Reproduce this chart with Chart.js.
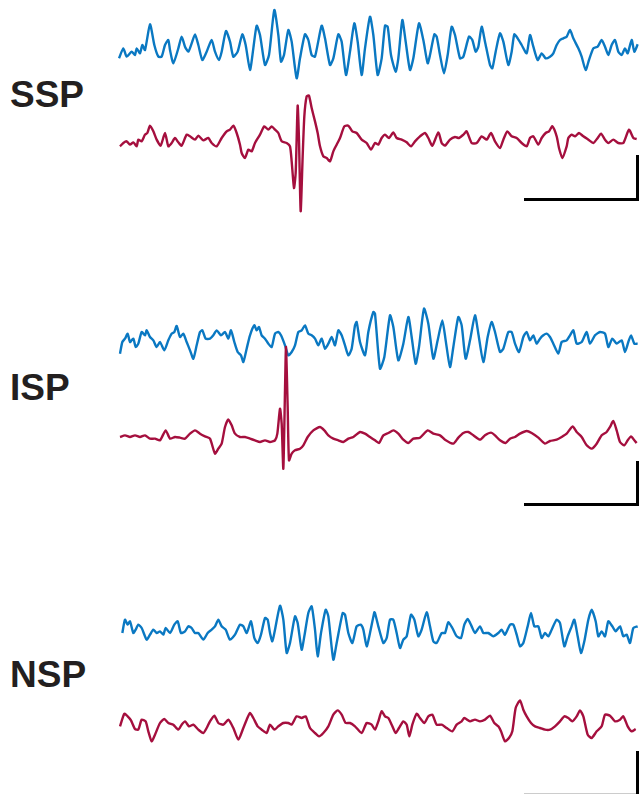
<!DOCTYPE html>
<html>
<head>
<meta charset="utf-8">
<script src="https://cdn.jsdelivr.net/npm/chart.js@4.4.1/dist/chart.umd.min.js"></script>
<style>
  html, body { margin: 0; padding: 0; background: #fff; }
  #page { position: relative; width: 639px; height: 794px; overflow: hidden; }
  #page canvas { position: absolute; }
  .label {
    position: absolute; left: 10px;
    font-family: "Liberation Sans", Arial, sans-serif; font-weight: bold;
    font-size: 37px; line-height: 37px; color: #231f20;
  }
  .bar { position: absolute; background: #000; }
</style>
</head>
<body>
<div id="page">
  <div class="label" style="top:76px">SSP</div>
  <div class="label" style="top:369px">ISP</div>
  <div class="label" style="top:656px">NSP</div>
  <!-- scale bars -->
  <div class="bar" style="left:524px; top:198px; width:115px; height:3px"></div>
  <div class="bar" style="left:636px; top:155px; width:3px; height:46px"></div>
  <div class="bar" style="left:524px; top:503px; width:115px; height:3px"></div>
  <div class="bar" style="left:636px; top:461px; width:3px; height:45px"></div>
  <div class="bar" style="left:524px; top:793px; width:115px; height:1px; background:#ccc"></div>
  <div class="bar" style="left:636px; top:751px; width:3px; height:43px"></div>
</div>
<script>
// time (samples) and amplitude, one pair of arrays per trace
const sspBlueT = [12,25,35,50,60,65,75,82,90,105,118,130,140,150,160,165,175,190,200,210,220,230,240,250,262,275,290,300,312,320,333,345,355,368,382,392,405,415,425,435,450,462,478,490,498,507,520,530,545,555,570,580,590,600,620,630,645,655,670,680,693,705,718,728,740,750,765,775,
  788,800,810,818,828,842,850,862,872,885,895,912,925,938,945,958,965,975,987,998,1010,1020,1035,1045,1062,1072,1082,1090,1100,1110,1125,1132,1142,1155,1165,1180,1190,1198,1208,1220,1235,1245,1255,1268,1280,1292,1305,1315,1325,1335,1345,1355,1365,1375,1390,1400,1412,1422,1435,1448,1460,1470,1480,1490,1500,1510,1520,1530,1538,1550,1558,1568];
const sspBlueV = [-40,-10,-35,-20,-30,-10,-25,0,-15,62,0,-35,-35,0,15,-15,-55,-10,25,-5,-20,5,32,0,-45,-20,15,-20,-45,-20,42,10,-35,-20,32,0,-75,-10,58,30,-60,-30,105,30,-50,-30,45,10,-100,-40,32,15,-30,-35,58,20,-60,-40,32,10,-90,-20,65,10,-90,-10,85,30,
  -90,-40,58,55,-30,-80,-40,75,10,-75,-40,65,15,-55,-30,32,25,-30,-85,-30,55,30,-40,-35,25,15,-20,-5,55,10,-60,-70,-20,35,10,-60,-20,32,20,0,-25,30,-5,-45,-25,-40,-35,-25,0,15,20,25,45,20,-10,-35,-75,-45,-10,-5,15,-5,-30,0,15,-20,-30,-10,-25,15,-20,2];

const sspRedT = [15,25,35,45,55,65,70,80,90,97,105,115,125,137,150,160,170,180,190,200,215,225,240,250,265,280,290,305,320,335,345,355,365,375,380,390,400,410,420,435,448,460,470,480,490,500,515,525,530,537,542,548,552,557,563,568,575,582,590,600,608,615,625,635,645,655,665,675,688,700,712,725,740,755,768,
  780,790,800,810,822,835,845,860,875,888,900,915,930,940,952,970,980,990,1005,1020,1032,1045,1055,1070,1085,1100,1115,1128,1140,1155,1165,1177,1190,1205,1220,1235,1245,1255,1270,1280,1292,1302,1312,1325,1332,1342,1355,1360,1370,1380,1392,1405,1420,1435,1448,1458,1470,1480,1495,1510,1525,1542,1555,1565];
const sspRedV = [-10,0,5,-5,2,-10,10,5,25,30,52,35,10,-8,30,-10,0,15,2,-8,25,20,10,22,8,15,0,-10,15,35,40,52,30,-5,-30,-45,-20,-25,0,25,50,40,50,40,30,5,0,-10,-55,-135,-90,112,10,-205,-40,80,140,142,105,65,30,-10,-40,-45,-55,-25,-5,15,50,52,35,30,10,0,-20,
  0,-5,15,25,15,32,15,10,2,-10,5,20,30,15,-8,32,0,-8,10,18,15,25,35,0,0,20,10,30,5,-15,10,35,20,15,0,-10,15,20,-5,15,30,35,50,20,-15,-45,-10,15,25,20,30,20,10,0,15,28,10,0,10,0,0,40,15,12];

const ispBlueT = [15,22,30,38,45,55,62,70,80,90,95,105,115,125,135,148,160,170,178,185,195,205,215,225,235,245,255,262,272,285,295,305,318,330,340,348,358,368,378,385,395,405,418,425,432,440,450,460,470,480,490,498,510,520,530,540,550,560,570,580,590,600,610,620,630,640,650,660,670,680,690,700,710,720,725,735,750,760,775,
  780,795,808,825,835,850,865,880,890,902,912,927,940,955,968,982,992,1005,1015,1030,1040,1052,1065,1080,1090,1105,1118,1130,1140,1155,1165,1180,1190,1200,1212,1225,1235,1245,1255,1265,1275,1285,1295,1305,1315,1330,1340,1355,1365,1375,1385,1400,1415,1425,1440,1455,1470,1480,1492,1505,1520,1530,1540,1548,1558,1568];
const ispBlueV = [-35,0,10,25,0,10,-15,-5,30,20,35,15,5,-15,0,-25,5,25,30,48,15,25,0,-25,-50,-10,30,35,10,10,20,35,20,30,10,35,0,-30,-40,-60,-20,20,50,35,45,20,10,-5,-15,25,30,20,-10,-40,-30,-10,30,35,50,25,20,10,-10,10,-20,-5,15,-10,35,20,-10,-40,-20,50,60,0,-40,30,90,
  85,-80,-45,80,45,-55,-5,75,15,-65,-15,100,55,-50,5,65,5,-75,-15,75,50,-50,5,80,25,-60,15,60,30,-30,-20,30,30,-5,-30,15,30,5,20,-5,10,20,25,15,-5,-35,0,5,20,35,-5,0,30,-5,20,30,25,-15,10,-5,5,-30,0,20,-5,-5];

const ispRedT = [15,30,45,60,75,90,105,120,135,152,165,180,195,210,225,240,255,270,285,300,310,320,330,340,350,360,375,390,405,420,435,450,465,480,487,495,500,505,510,513,518,522,530,540,555,565,578,595,615,628,640,655,670,685,700,715,735,750,765,
  780,792,805,820,835,850,865,880,895,915,938,955,975,990,1015,1030,1045,1060,1075,1095,1110,1128,1140,1155,1172,1185,1200,1215,1235,1250,1270,1290,1305,1325,1340,1355,1373,1385,1400,1415,1430,1445,1460,1475,1485,1495,1505,1515,1528,1538,1548,1558,1565];
const ispRedV = [0,5,0,5,0,5,-5,-5,-10,20,-5,0,-2,-5,10,20,10,2,-5,-50,-35,-20,30,53,35,10,0,0,-5,-10,-15,-10,-15,-10,10,85,40,-95,140,270,90,-70,-50,-40,-35,-25,0,20,30,20,5,-5,-10,-15,-5,0,15,10,0,
  -10,-18,5,12,20,10,-8,-18,-5,-2,20,10,5,-8,-20,-2,12,15,5,-8,5,13,5,-10,-18,-5,0,10,18,12,-2,-20,-12,-8,0,10,32,15,0,-25,-35,-20,5,15,30,48,20,-15,-25,-10,2,-10,-18];

const nspBlueT = [22,30,38,45,55,62,70,80,95,105,115,125,135,145,152,165,178,188,198,210,220,230,240,250,265,278,290,300,310,320,332,345,360,375,385,395,408,418,428,438,450,458,465,472,480,495,505,515,525,540,548,560,568,580,590,600,608,618,632,640,655,665,683,690,700,712,725,737,745,755,765,778,
  780,790,805,815,825,835,845,855,865,875,888,898,910,920,935,945,955,965,980,990,1000,1012,1025,1038,1048,1058,1070,1080,1095,1105,1120,1135,1150,1160,1170,1185,1195,1205,1215,1225,1238,1248,1258,1270,1280,1290,1300,1310,1325,1335,1348,1358,1370,1378,1388,1398,1408,1420,1430,1442,1450,1460,1470,1480,1492,1502,1515,1525,1535,1545,1555,1568];
const nspBlueV = [0,40,25,35,0,10,25,15,-20,-5,10,0,5,-5,15,0,25,35,0,5,20,15,0,0,-20,0,10,20,40,20,10,-20,-5,25,20,0,35,-15,-30,-5,45,40,0,-25,10,82,40,-60,-30,50,30,-50,-10,60,80,10,-70,0,70,50,-80,-30,60,55,0,-30,20,25,10,-40,0,62,
  60,20,-30,-15,40,40,0,-45,-20,-10,55,40,-10,10,62,20,-25,-30,0,0,32,15,-10,-15,25,42,20,0,20,0,0,-10,0,10,-5,25,25,-5,-40,-30,20,60,20,20,-15,0,-10,10,40,30,-40,-10,20,40,-10,-60,-25,40,70,35,-10,5,-10,35,20,5,20,-10,-5,-30,15,20];

const nspRedT = [15,28,38,48,60,70,80,92,100,110,120,135,148,160,175,190,200,210,222,235,250,265,275,285,298,310,325,340,355,370,385,395,405,415,428,440,455,465,478,490,505,520,530,545,560,572,585,600,612,625,640,655,668,680,692,705,720,740,755,770,
  780,790,800,810,820,830,842,852,865,875,883,892,905,915,928,940,952,965,980,995,1012,1025,1040,1048,1065,1080,1095,1110,1125,1138,1150,1158,1170,1182,1192,1202,1215,1225,1235,1248,1260,1275,1290,1305,1320,1335,1348,1360,1372,1385,1395,1405,1418,1430,1445,1460,1470,1485,1500,1515,1525,1538,1550,1562];
const nspRedV = [-10,28,20,8,-18,-20,10,5,-25,-55,-35,0,12,0,-5,-20,-5,5,-10,-5,-20,-30,-15,5,22,0,-5,10,-15,-50,-15,10,30,15,-10,-20,-30,-5,-20,-10,0,0,-5,20,15,20,-15,-30,-40,-30,-10,25,38,25,0,0,-10,-30,0,-5,
  -20,5,35,20,15,-5,-30,-15,5,-5,-40,-5,28,15,0,20,25,-5,-5,-15,-25,-5,5,15,5,10,5,10,22,0,-10,-25,-55,-45,-25,45,68,40,20,0,-10,-15,-20,-20,-10,5,20,15,5,20,38,20,-35,-45,-25,-10,25,22,5,10,20,-10,-25,-18];

const BLUE = "#0a78c2";
const RED = "#a50f3e";
const T_MAX = 1572; // 3 samples per pixel across the 524px trace width

// layout only: where each trace canvas sits on the page
const traces = [
  { t: sspBlueT, v: sspBlueV, color: BLUE, center: 45,  half: 45 },
  { t: sspRedT,  v: sspRedV,  color: RED,  center: 143, half: 75 },
  { t: ispBlueT, v: ispBlueV, color: BLUE, center: 342, half: 42 },
  { t: ispRedT,  v: ispRedV,  color: RED,  center: 437, half: 100 },
  { t: nspBlueT, v: nspBlueV, color: BLUE, center: 633, half: 40 },
  { t: nspRedT,  v: nspRedV,  color: RED,  center: 723, half: 40 },
];

const page = document.getElementById("page");
traces.forEach(tr => {
  const canvas = document.createElement("canvas");
  canvas.width = 524;
  canvas.height = tr.half * 2;
  canvas.style.left = "115px";
  canvas.style.top = (tr.center - tr.half) + "px";
  page.appendChild(canvas);

  new Chart(canvas.getContext("2d"), {
    type: "line",
    data: {
      datasets: [{
        data: tr.t.map((t, i) => ({ x: t, y: tr.v[i] })),
        borderColor: tr.color,
        borderWidth: 2.4,
        pointRadius: 0,
        tension: 0.2,
        fill: false,
        clip: false,
      }],
    },
    options: {
      responsive: false,
      animation: false,
      devicePixelRatio: 1,
      layout: { padding: 0 },
      plugins: { legend: { display: false }, tooltip: { enabled: false } },
      scales: {
        x: { type: "linear", display: false, min: 0, max: T_MAX },
        y: { display: false, min: -tr.half * 3, max: tr.half * 3 },
      },
    },
  });
});
</script>
</body>
</html>
